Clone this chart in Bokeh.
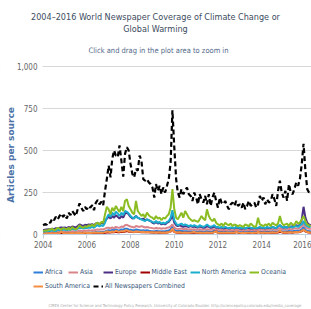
import pandas as pd
from bokeh.plotting import figure
from bokeh.models import (Range1d, FixedTicker, NumeralTickFormatter, DatetimeTickFormatter,
                          Legend, LegendItem, Label, BoxAnnotation)
from bokeh.embed import file_html
from bokeh.resources import INLINE

months = pd.date_range("2004-01-01", periods=148, freq="MS")

africa = [5, 6, 5, 8, 6, 7, 8, 6, 9, 8, 7, 10,
          8, 7, 9, 8, 10, 9, 8, 10, 14, 12, 10, 12,
          10, 12, 11, 13, 12, 15, 14, 13, 16, 15, 18, 22,
          25, 22, 28, 24, 30, 26, 24, 30, 28, 35, 34, 30,
          28, 26, 25, 30, 28, 26, 24, 26, 22, 25, 22, 21,
          20, 18, 22, 19, 20, 18, 20, 18, 22, 24, 30, 55,
          28, 22, 20, 22, 21, 19, 20, 19, 18, 20, 18, 19,
          18, 17, 19, 18, 17, 18, 20, 18, 16, 18, 22, 30,
          18, 16, 17, 16, 18, 17, 15, 16, 17, 16, 22, 18,
          16, 15, 17, 15, 16, 17, 16, 15, 17, 16, 20, 18,
          17, 18, 16, 18, 17, 18, 19, 18, 17, 20, 24, 20,
          18, 20, 18, 21, 20, 19, 21, 22, 21, 24, 30, 45,
          28, 22, 20, 19]
asia = [10, 12, 11, 14, 12, 15, 13, 14, 16, 15, 14, 18,
        16, 15, 18, 16, 20, 18, 17, 20, 24, 22, 20, 24,
        22, 25, 23, 26, 24, 28, 30, 28, 32, 30, 35, 40,
        40, 36, 42, 38, 45, 42, 40, 48, 45, 55, 58, 52,
        48, 45, 42, 50, 48, 45, 50, 46, 42, 45, 42, 40,
        38, 35, 40, 36, 38, 34, 38, 35, 40, 42, 48, 60,
        40, 35, 32, 34, 36, 32, 34, 32, 30, 32, 30, 32,
        30, 28, 32, 30, 28, 30, 32, 30, 28, 30, 32, 28,
        28, 26, 28, 25, 28, 26, 25, 27, 26, 25, 28, 26,
        26, 24, 27, 25, 26, 28, 26, 25, 27, 25, 28, 30,
        28, 30, 27, 30, 28, 30, 32, 30, 28, 34, 38, 32,
        30, 32, 30, 34, 32, 33, 35, 36, 34, 40, 48, 65,
        45, 38, 34, 32]
europe = [25, 28, 30, 32, 30, 35, 32, 38, 35, 40, 42, 40,
          42, 38, 45, 40, 48, 45, 42, 50, 60, 55, 50, 58,
          55, 60, 58, 62, 55, 65, 68, 62, 70, 65, 80, 95,
          105, 95, 110, 100, 115, 105, 95, 110, 100, 125, 130, 120,
          105, 95, 100, 110, 100, 95, 90, 95, 85, 90, 85, 80,
          70, 65, 75, 65, 70, 60, 65, 60, 70, 75, 90, 115,
          70, 55, 50, 55, 50, 45, 50, 48, 45, 50, 45, 48,
          45, 42, 48, 45, 40, 42, 50, 45, 40, 42, 48, 40,
          40, 38, 42, 36, 40, 38, 35, 38, 40, 36, 42, 38,
          36, 34, 38, 35, 38, 40, 36, 35, 40, 36, 38, 42,
          38, 40, 36, 42, 38, 40, 45, 40, 38, 48, 55, 45,
          40, 45, 42, 48, 45, 50, 48, 55, 50, 60, 90, 165,
          100, 70, 60, 55]
middle_east = [3, 4, 3, 5, 4, 4, 5, 4, 5, 6, 5, 6,
               5, 4, 6, 5, 6, 5, 5, 6, 8, 7, 6, 7,
               6, 7, 6, 8, 7, 8, 9, 8, 9, 8, 10, 12,
               14, 12, 15, 13, 16, 14, 13, 16, 15, 18, 20, 17,
               16, 15, 14, 17, 16, 15, 14, 15, 13, 14, 13, 12,
               12, 11, 13, 11, 12, 10, 11, 10, 12, 14, 18, 30,
               15, 12, 11, 12, 11, 10, 11, 10, 10, 11, 10, 11,
               10, 9, 11, 10, 9, 10, 11, 10, 9, 10, 14, 18,
               10, 9, 10, 9, 10, 9, 8, 9, 10, 9, 14, 11,
               9, 8, 10, 8, 9, 10, 9, 8, 10, 9, 14, 11,
               10, 11, 9, 10, 10, 11, 12, 11, 10, 12, 16, 13,
               11, 12, 10, 13, 12, 11, 13, 14, 13, 15, 20, 28,
               18, 14, 12, 11]
north_america = [15, 20, 18, 22, 20, 25, 22, 20, 28, 25, 22, 30,
                 28, 25, 30, 28, 35, 30, 28, 35, 40, 38, 35, 40,
                 38, 42, 40, 45, 40, 50, 55, 48, 55, 50, 70, 100,
                 120, 105, 130, 115, 135, 125, 110, 130, 115, 140, 135, 125,
                 110, 100, 95, 110, 100, 95, 90, 85, 80, 90, 85, 80,
                 75, 70, 80, 70, 75, 65, 70, 65, 75, 80, 100, 145,
                 85, 65, 55, 60, 65, 55, 60, 55, 50, 55, 50, 55,
                 50, 45, 55, 50, 45, 50, 60, 50, 45, 50, 55, 45,
                 45, 40, 45, 40, 45, 40, 38, 42, 40, 38, 45, 40,
                 40, 38, 42, 36, 40, 45, 40, 38, 42, 38, 40, 45,
                 40, 42, 38, 45, 40, 42, 45, 40, 38, 50, 55, 45,
                 42, 45, 40, 50, 45, 42, 48, 50, 45, 55, 60, 80,
                 60, 50, 45, 48]
oceania = [20, 25, 22, 30, 28, 35, 25, 30, 40, 35, 30, 38,
           35, 30, 40, 28, 45, 35, 30, 40, 55, 45, 40, 50,
           45, 55, 50, 60, 48, 65, 70, 60, 75, 70, 120, 165,
           150, 120, 160, 140, 170, 150, 135, 165, 140, 200, 210, 170,
           150, 130, 120, 200, 140, 125, 110, 120, 100, 130, 115, 105,
           100, 90, 110, 95, 100, 85, 100, 95, 110, 120, 160, 270,
           150, 100, 90, 110, 130, 100, 140, 120, 100, 90, 80, 85,
           80, 75, 90, 110, 95, 85, 150, 110, 90, 80, 95, 70,
           60, 55, 65, 50, 70, 60, 55, 65, 50, 60, 55, 50,
           55, 50, 45, 60, 55, 50, 65, 55, 45, 50, 100, 60,
           55, 50, 60, 55, 65, 50, 70, 60, 55, 65, 110, 70,
           55, 60, 65, 50, 70, 60, 55, 80, 65, 70, 90, 110,
           80, 60, 55, 50]
south_america = [4, 5, 6, 5, 7, 6, 5, 8, 6, 7, 20, 8,
                 7, 6, 8, 7, 9, 8, 7, 9, 10, 9, 8, 12,
                 9, 10, 9, 11, 10, 12, 11, 10, 12, 11, 14, 18,
                 16, 14, 18, 15, 22, 18, 16, 20, 18, 22, 25, 20,
                 18, 16, 15, 18, 17, 16, 15, 16, 14, 15, 14, 13,
                 13, 12, 14, 12, 13, 11, 12, 11, 13, 14, 18, 35,
                 16, 13, 12, 13, 12, 11, 12, 11, 11, 12, 14, 16,
                 11, 10, 12, 11, 10, 11, 12, 11, 10, 11, 14, 18,
                 10, 10, 11, 10, 11, 12, 10, 10, 11, 10, 16, 12,
                 10, 9, 11, 9, 10, 11, 10, 9, 11, 10, 15, 12,
                 11, 12, 10, 11, 11, 12, 13, 12, 11, 14, 25, 14,
                 12, 13, 11, 14, 13, 12, 14, 15, 14, 16, 22, 30,
                 20, 15, 13, 12]
combined = [55, 62, 58, 75, 70, 95, 85, 105, 90, 110, 125, 105,
            120, 95, 130, 115, 140, 125, 110, 150, 185, 160, 140, 165,
            150, 170, 160, 175, 145, 190, 205, 180, 195, 175, 260, 330,
            410, 340, 450, 500, 470, 460, 530, 440, 345, 480, 520, 500,
            420, 360, 340, 390, 380, 470, 440, 330, 320, 330, 310, 300,
            280, 220, 300, 260, 290, 240, 280, 250, 290, 330, 430, 740,
            520, 330, 250, 220, 270, 240, 260, 280, 240, 230, 200, 250,
            220, 180, 240, 210, 190, 230, 180, 240, 170, 220, 250, 200,
            160, 220, 190, 180, 200, 170, 150, 180, 190, 170, 200, 170,
            180, 160, 190, 150, 170, 200, 170, 180, 190, 160, 180, 230,
            200, 220, 180, 210, 190, 200, 240, 210, 170, 260, 320, 250,
            220, 260, 200, 300, 250, 240, 270, 310, 290, 330, 420, 540,
            380, 270, 250, 260]

series_names = ["Africa", "Asia", "Europe", "Middle East", "North America", "Oceania",
                "South America", "All Newspapers Combined"]
series_values = [africa, asia, europe, middle_east, north_america, oceania, south_america, combined]
series_colors = ["#2f7ed8", "#d9848a", "#4b2d84", "#a00000", "#1aadce", "#8bbc21", "#f28f43", "#000000"]

y_ticks = [0, 250, 500, 750, 1000]
x_tick_years = [2004, 2006, 2008, 2010, 2012, 2014, 2016]

title_line1 = "2004\u20132016 World Newspaper Coverage of Climate Change or"
title_line2 = "Global Warming"
subtitle = "Click and drag in the plot area to zoom in"
credits = ("CIRES Center for Science and Technology Policy Research, University of Colorado Boulder. "
           "http://sciencepolicy.colorado.edu/media_coverage")

FONT = "DejaVu Sans Condensed, Roboto, sans-serif"

W, H = 311, 309
PLOT_LEFT = 42  # px where the plotting area starts

# visible data window (dates)
t_start = pd.Timestamp("2003-12-22").timestamp() * 1000
t_end = pd.Timestamp("2016-04-12").timestamp() * 1000
# extend the range to the left so the frame can hold the value axis too
x_lo = t_start - (t_end - t_start) * PLOT_LEFT / (W - PLOT_LEFT)

# The frame covers the whole canvas; values 0..1,000 occupy its middle band.
p = figure(width=W, height=H, x_axis_type="datetime", output_backend="svg",
           toolbar_location=None, title=None,
           x_range=Range1d(x_lo, t_end), y_range=Range1d(-446.4, 1392.9),
           min_border_left=0, min_border_right=0, min_border_top=0, min_border_bottom=0)
p.outline_line_color = None
p.background_fill_color = "white"

# value axis
p.yaxis.fixed_location = t_start
p.yaxis.ticker = FixedTicker(ticks=y_ticks)
p.yaxis.formatter = NumeralTickFormatter(format="0,0")
p.yaxis.axis_line_color = None
p.yaxis.major_tick_line_color = None
p.yaxis.minor_tick_line_color = None
p.yaxis.major_tick_out = 0
p.yaxis.major_tick_in = 0
p.yaxis.major_label_text_font = FONT
p.yaxis.major_label_text_font_size = "8px"
p.yaxis.major_label_text_color = "#666666"
p.yaxis.major_label_standoff = 5
p.yaxis.axis_label = "Articles per source"
p.yaxis.axis_label_text_font = "DejaVu Sans"
p.yaxis.axis_label_text_font_style = "bold"
p.yaxis.axis_label_text_font_size = "9px"
p.yaxis.axis_label_text_color = "#4d72a8"
p.yaxis.axis_label_standoff = -2

# time axis
p.xaxis.fixed_location = 0
p.xaxis.bounds = (t_start, t_end)
p.xaxis.ticker = FixedTicker(ticks=[pd.Timestamp(f"{y}-01-01").timestamp() * 1000 for y in x_tick_years])
p.xaxis.formatter = DatetimeTickFormatter(years="%Y", months="%Y", days="%Y")
p.xaxis.axis_line_color = "#c0d0e0"
p.xaxis.major_tick_line_color = "#c0d0e0"
p.xaxis.major_tick_in = 0
p.xaxis.major_tick_out = 4
p.xaxis.minor_tick_line_color = None
p.xaxis.major_label_text_font = FONT
p.xaxis.major_label_text_font_size = "8px"
p.xaxis.major_label_text_color = "#666666"
p.xaxis.major_label_standoff = 2

p.xgrid.grid_line_color = None
p.ygrid.grid_line_color = "#d8d8d8"
p.ygrid.ticker = FixedTicker(ticks=y_ticks)
# keep grid lines out of the value-axis gutter
p.add_layout(BoxAnnotation(right=t_start, fill_color="white", fill_alpha=1.0, line_color=None,
                           level="underlay"))

renderers = []
for name, vals, col in zip(series_names, series_values, series_colors):
    if name == "All Newspapers Combined":
        r = p.line(months, vals, line_color=col, line_width=2.2, line_dash="5 3")
    else:
        r = p.line(months, vals, line_color=col, line_width=2)
    renderers.append(r)

legend_style = dict(orientation="horizontal", border_line_color=None,
                    background_fill_alpha=0, label_text_font=FONT, label_text_font_size="6.8px",
                    label_text_color="#34557a", glyph_width=10, glyph_height=12,
                    label_standoff=2, spacing=3, padding=0, margin=0, label_height=12)
leg1 = Legend(items=[LegendItem(label=n, renderers=[r]) for n, r in zip(series_names[:6], renderers[:6])],
              location=(33, 31), **legend_style)
leg2 = Legend(items=[LegendItem(label=n, renderers=[r]) for n, r in zip(series_names[6:], renderers[6:])],
              location=(33, 17), **legend_style)
p.add_layout(leg1)
p.add_layout(leg2)

label_style = dict(x_units="screen", y_units="screen", text_align="center", text_baseline="middle",
                   text_font=FONT)
p.add_layout(Label(x=155, y=293, text=title_line1, text_font_size="9px", text_color="#3b4b5e", **label_style))
p.add_layout(Label(x=155, y=281, text=title_line2, text_font_size="9px", text_color="#3b4b5e", **label_style))
p.add_layout(Label(x=158, y=259, text=subtitle, text_font_size="7.5px", text_color="#52688a", **label_style))
p.add_layout(Label(x=48, y=4, text=credits, x_units="screen", y_units="screen", text_align="left",
                   text_baseline="middle", text_font=FONT, text_font_size="4px", text_color="#aaaaaa"))

open("out.html", "w").write(file_html(p, INLINE))
